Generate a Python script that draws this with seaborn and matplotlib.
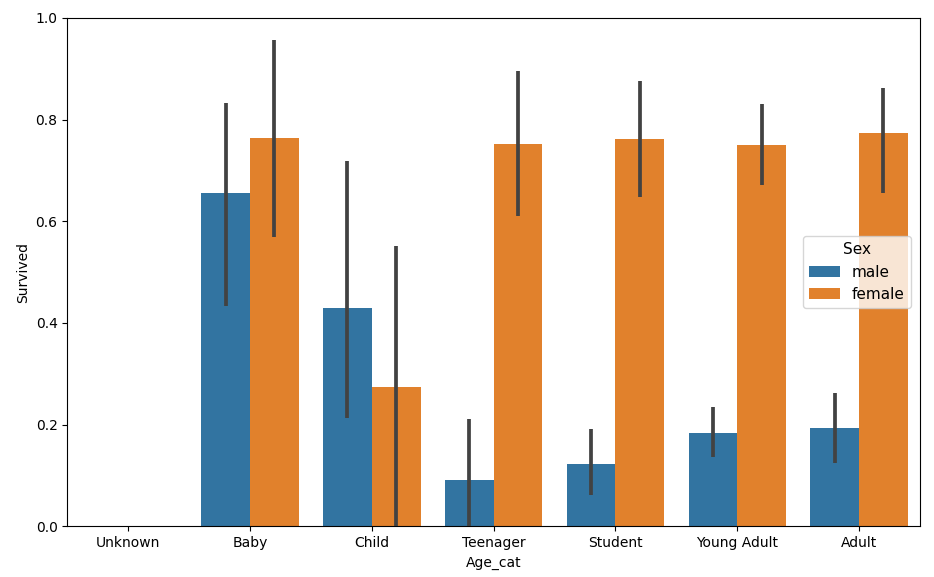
import numpy as np
import pandas as pd
import matplotlib
matplotlib.use("Agg")
import matplotlib.pyplot as plt
import seaborn as sns

categories = ["Unknown", "Baby", "Child", "Teenager", "Student", "Young Adult", "Adult"]
sexes = ["male", "female"]

# survival rate per category (NaN = no bar)
male_rate = [np.nan, 0.655, 0.429, 0.091, 0.122, 0.183, 0.194]
female_rate = [np.nan, 0.763, 0.273, 0.752, 0.761, 0.750, 0.774]

# confidence interval bounds
male_lo = [np.nan, 0.433, 0.212, 0.0, 0.062, 0.136, 0.125]
male_hi = [np.nan, 0.832, 0.719, 0.211, 0.191, 0.234, 0.263]
female_lo = [np.nan, 0.569, 0.0, 0.610, 0.647, 0.671, 0.655]
female_hi = [np.nan, 0.957, 0.551, 0.895, 0.875, 0.830, 0.863]

rows = []
for i, c in enumerate(categories):
    for s, r in zip(sexes, [male_rate[i], female_rate[i]]):
        if not np.isnan(r):
            rows.append({"Age_cat": c, "Sex": s, "Survived": r})
df = pd.DataFrame(rows)

ci = {
    "male": (male_lo, male_hi),
    "female": (female_lo, female_hi),
}

fig, ax = plt.subplots(figsize=(9.34, 5.77), dpi=100)
fig.subplots_adjust(left=0.072, right=0.985, top=0.969, bottom=0.088)

sns.barplot(data=df, x="Age_cat", y="Survived", hue="Sex", order=categories,
            hue_order=sexes, errorbar=None, ax=ax)

for container, s in zip(ax.containers, sexes):
    lo, hi = ci[s]
    for bar in container:
        xc = bar.get_x() + bar.get_width() / 2
        idx = int(round(xc))
        if np.isnan(lo[idx]):
            continue
        ax.plot([xc, xc], [lo[idx], hi[idx]], color=".26", linewidth=2.7,
                solid_capstyle="butt", zorder=3)

ax.set_ylim(0, 1.0)
ax.set_xlim(-0.5, len(categories) - 0.5)
ax.legend(title="Sex", loc="center right", fontsize=11, title_fontsize=11,
          borderaxespad=0.6)

fig.savefig("out.png", dpi=100)
